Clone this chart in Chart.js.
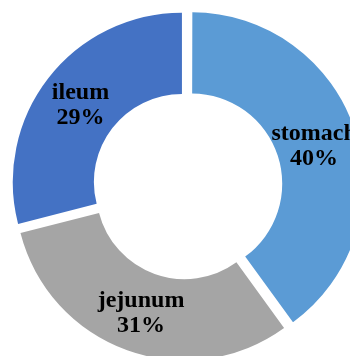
<!DOCTYPE html>
<html>
<head>
<meta charset="utf-8">
<script src="https://cdn.jsdelivr.net/npm/chart.js@4.4.1/dist/chart.umd.min.js"></script>
<style>
    html, body { margin: 0; padding: 0; background: #fff; }
    canvas { display: block; }
</style>
</head>
<body>
<canvas id="sectionChart" width="350" height="356"></canvas>
<script>
// Share of each gut section (%)
const sections = ['stomach', 'jejunum', 'ileum'];
const shares = [40, 31, 29];

// Writes "name" and "value%" in the middle of each slice
const sliceLabels = {
    id: 'sliceLabels',
    afterDatasetsDraw(chart) {
        const ctx = chart.ctx;
        const meta = chart.getDatasetMeta(0);
        ctx.save();
        ctx.font = 'bold 24px "Liberation Serif", "Times New Roman", serif';
        ctx.fillStyle = '#000';
        ctx.textAlign = 'center';
        ctx.textBaseline = 'alphabetic';
        meta.data.forEach((arc, i) => {
            const p = arc.getProps(['x', 'y', 'startAngle', 'endAngle', 'innerRadius', 'outerRadius'], true);
            const mid = (p.startAngle + p.endAngle) / 2;
            // arc offset is drawn as offset/4 in v4
            const r = (p.innerRadius + p.outerRadius) / 2 + (arc.options.offset || 0) / 4;
            const cx = p.x + Math.cos(mid) * r;
            const cy = p.y + Math.sin(mid) * r;
            ctx.fillText(chart.data.labels[i], cx, cy - 4.5);
            ctx.fillText(chart.data.datasets[0].data[i] + '%', cx, cy + 20.5);
        });
        ctx.restore();
    }
};

new Chart(document.getElementById('sectionChart'), {
    type: 'doughnut',
    data: {
        labels: sections,
        datasets: [{
            data: shares,
            backgroundColor: ['#5b9bd5', '#a5a5a5', '#4472c4'],
            borderWidth: 0,
            offset: 23,          // pulls every slice out a little
            hoverOffset: 0
        }]
    },
    options: {
        responsive: false,
        animation: false,
        events: [],
        radius: 169,
        cutout: '52%',
        layout: {
            padding: { left: 23, right: 0, top: 15, bottom: 0 }
        },
        plugins: {
            legend: { display: false },
            tooltip: { enabled: false }
        }
    },
    plugins: [sliceLabels]
});
</script>
</body>
</html>
